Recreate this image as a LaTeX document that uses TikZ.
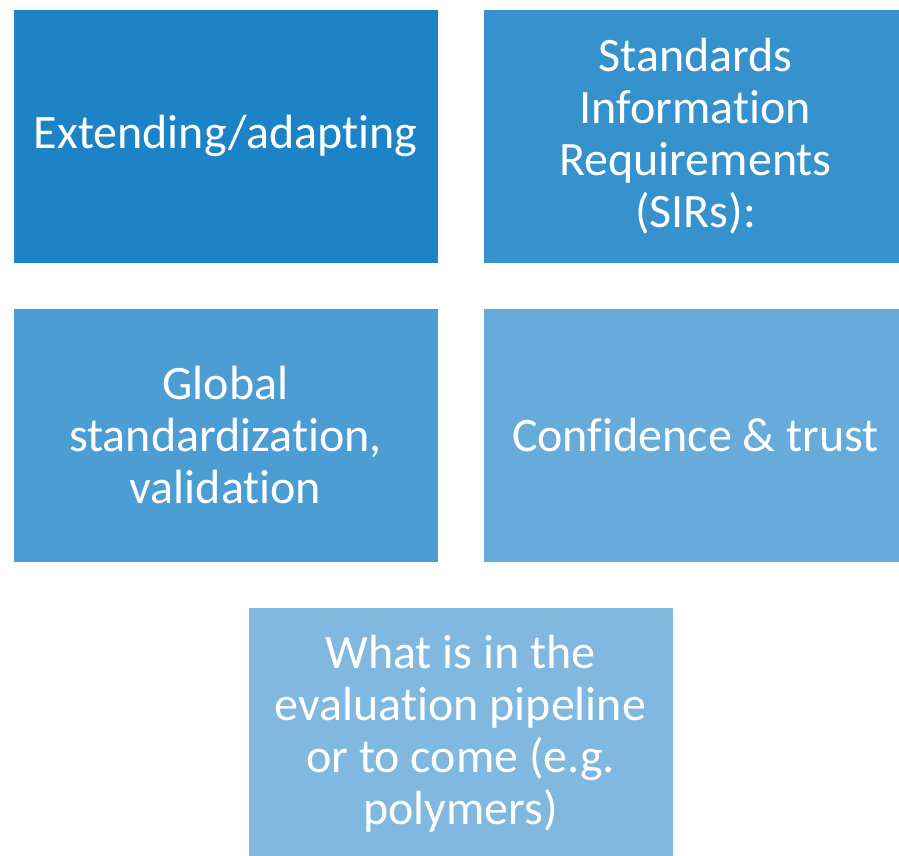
\documentclass[tikz,border=0pt]{standalone}
\usepackage{fontspec}
\setmainfont{Carlito}[Ligatures=NoCommon]
\definecolor{tileA}{HTML}{1C84C6}
\definecolor{tileB}{HTML}{3592CD}
\definecolor{tileC}{HTML}{4B9DD3}
\definecolor{tileD}{HTML}{66ABD9}
\definecolor{tileE}{HTML}{80B8DF}
\begin{document}
\begin{tikzpicture}[x=1pt, y=-1pt, font=\fontsize{48}{52}\selectfont,
    tile/.style={minimum width=424pt, minimum height=253pt, inner sep=0pt, text=white, align=center}]
    \useasboundingbox (0,0) rectangle (899,855);
    \clip (0,0) rectangle (899,855);
    \node[tile, fill=tileA] (extend) at (225.5,136) {Extending/adapting};
    \node[tile, fill=tileB] (sirs) at (695.5,136) {Standards\\Information\\Requirements\\(SIRs):};
    \node[tile, fill=tileC] (global) at (225.5,435) {Global\\standardization,\\validation};
    \node[tile, fill=tileD] (trust) at (695.5,435) {Confidence \& trust};
    \node[tile, fill=tileE] (pipeline) at (460.5,734) {What is in the\\evaluation pipeline\\or to come (e.g.\\polymers)};
\end{tikzpicture}
\end{document}
